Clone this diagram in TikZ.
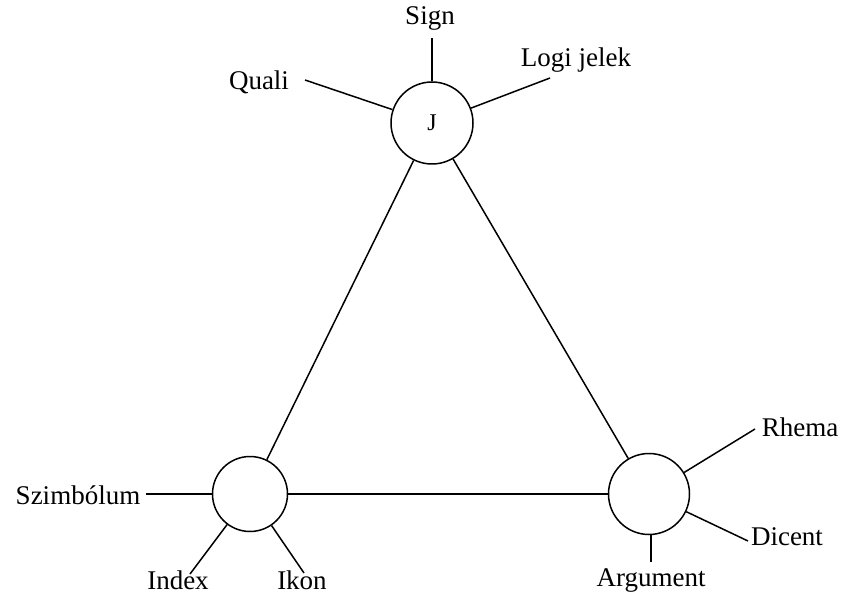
\documentclass[tikz,border=0pt]{standalone}
\usepackage{fontspec}
\setmainfont{Liberation Serif}
\begin{document}
\begin{tikzpicture}[x=1pt,y=-1pt,
  ring/.style={circle,draw,line width=1.5pt,inner sep=0pt},
  lbl/.style={inner sep=0pt,font=\fontsize{27}{29}\selectfont},
  ln/.style={line width=1.5pt}]
\useasboundingbox[fill=white] (0,0) rectangle (849,596);
\node[ring,minimum size=82pt,font=\fontsize{24}{26}\selectfont] (J) at (432,123) {J};
\node[ring,minimum size=75pt] (BL) at (250,494) {};
\node[ring,minimum size=81pt] (BR) at (649,494) {};
% labels
\node[lbl] (sign) at (430,18) {Sign};
\node[lbl] (quali) at (259,82) {Quali};
\node[lbl] (logi) at (576,60) {Logi jelek};
\node[lbl] (szim) at (78,495) {Szimbólum};
\node[lbl] (index) at (178,580) {Index};
\node[lbl] (ikon) at (302,580) {Ikon};
\node[lbl] (rhema) at (800,427) {Rhema};
\node[lbl] (dicent) at (787,537) {Dicent};
\node[lbl] (arg) at (651,580) {Argument};
% free ends
\coordinate (cSign) at (432,38);
\coordinate (cQuali) at (305,80);
\coordinate (cLogi) at (550,78);
\coordinate (cSzim) at (146,494);
\coordinate (cIndex) at (190,574);
\coordinate (cIkon) at (304,573);
\coordinate (cRhema) at (755,429);
\coordinate (cDicent) at (748,541);
\coordinate (cArg) at (651,562);
% spokes
\draw[ln] (J) -- (cSign);
\draw[ln] (J) -- (cQuali);
\draw[ln] (J) -- (cLogi);
\draw[ln] (BL) -- (cSzim);
\draw[ln] (BL) -- (cIndex);
\draw[ln] (BL) -- (cIkon);
\draw[ln] (BR) -- (cRhema);
\draw[ln] (BR) -- (cDicent);
\draw[ln] (cArg |- BR.south) -- (cArg);
% triangle
\draw[ln] (J) -- (BL);
\draw[ln] (J) -- (BR);
\draw[ln] (BL) -- (BR);
\end{tikzpicture}
\end{document}
